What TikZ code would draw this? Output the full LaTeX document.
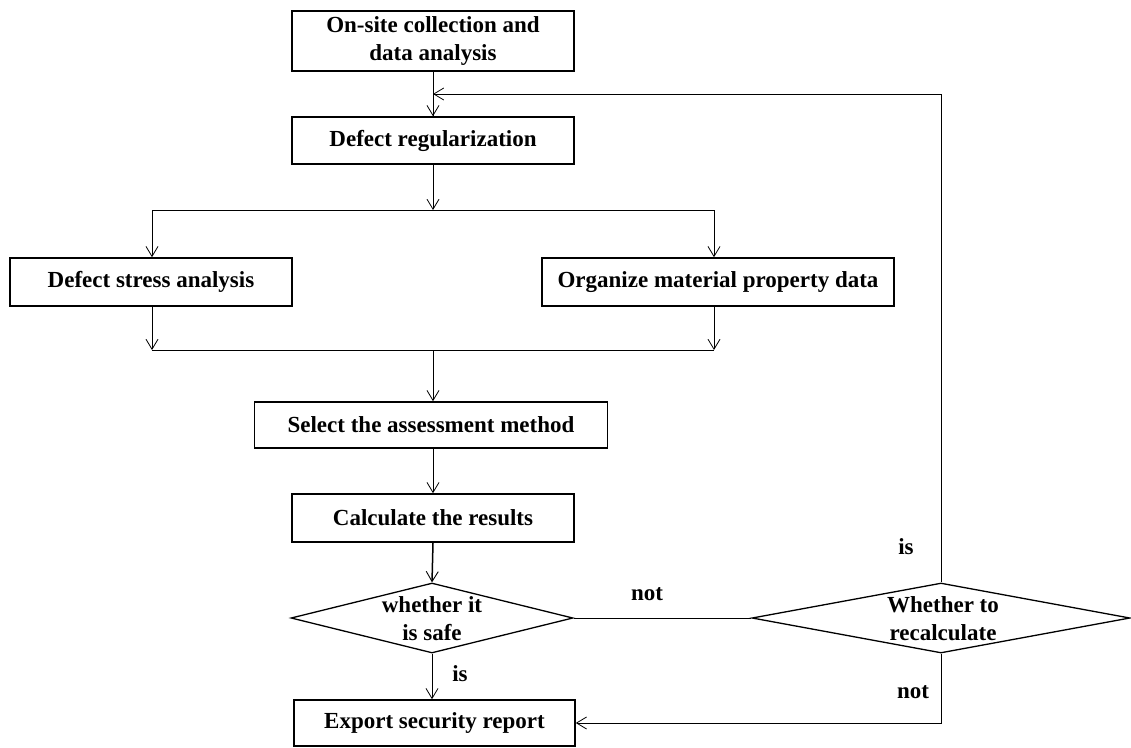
\documentclass[tikz,border=0pt]{standalone}
\usepackage{fontspec}
\setmainfont{Liberation Serif}
\usetikzlibrary{arrows.meta,shapes.geometric}
\begin{document}
\begin{tikzpicture}[x=1pt,y=-1pt,
  every node/.style={font=\fontsize{23}{28}\selectfont\bfseries},
  stepbox/.style={draw, line width=1.6pt, rectangle, inner sep=0pt, align=center},
  decision/.style={draw, line width=1.3pt, diamond, inner sep=0pt},
  lbl/.style={inner sep=0pt},
  conn/.style={line width=0.8pt},
  arr/.style={conn, -{Straight Barb[length=10pt,width=12pt,line width=0.8pt]}}]
\useasboundingbox (0,0) rectangle (1131,747);
\node[stepbox, minimum width=282pt, minimum height=60pt] (b1) at (433,41) {On-site collection and\\data analysis};
\node[stepbox, minimum width=282pt, minimum height=47pt] (b2) at (433,140.5) {Defect regularization};
\node[stepbox, minimum width=282pt, minimum height=48pt] (b3) at (151,282) {Defect stress analysis};
\node[stepbox, minimum width=352pt, minimum height=48pt] (b4) at (718,282) {Organize material property data};
\node[stepbox, minimum width=353pt, minimum height=46pt] (b5) at (431,425) {Select the assessment method};
\node[stepbox, minimum width=282pt, minimum height=48pt] (b6) at (433,518) {Calculate the results};
\node[decision, minimum width=282pt, minimum height=70pt] (d1) at (432,618) {};
\node[align=center, inner sep=0pt] (d1t) at (432,619) {whether it\\is safe};
\node[decision, minimum width=378pt, minimum height=70pt] (d2) at (941,618) {};
\node[align=center, inner sep=0pt] (d2t) at (943,619) {Whether to\\recalculate};
\node[stepbox, minimum width=281pt, minimum height=46pt] (b7) at (434.5,723) {Export security report};

\coordinate (j1) at (433,210);
\coordinate (jl) at (152,210);
\coordinate (jr) at (714,210);
\coordinate (ml) at (152,350);
\coordinate (mr) at (714,350);
\coordinate (mc) at (433,350);
\coordinate (fb) at (433,94);
\coordinate (fc) at (941,94);
\coordinate (bc) at (941,723);

\draw[conn] (b1.south) -- (b2.north);
\draw[arr] (b1.south) -- (b2.north);
\draw[arr] (b2.south) -- (j1);
\draw[conn] (jl) -- (jr);
\draw[arr] (jl) -- (jl |- b3.north);
\draw[arr] (jr) -- (jr |- b4.north);
\draw[arr] (b3.south -| ml) -- (ml);
\draw[arr] (b4.south -| mr) -- (mr);
\draw[conn] (ml) -- (mr);
\draw[arr] (mc) -- (mc |- b5.north);
\draw[arr] (b5.south -| mc) -- (mc |- b6.north);
\draw[line width=1.5pt, -{Straight Barb[length=10pt,width=12pt,line width=0.9pt]}] (b6.south) -- (d1.north);
\draw[conn] (d1.east) -- (d2.west);
\draw[arr] (d1.south) -- (b7.north -| d1.south);
\draw[arr] (d2.north) -- (fc) -- (fb);
\draw[arr] (d2.south) -- (bc) -- (b7.east);

\node[lbl] (lnot1) at (647,594) {not};
\node[lbl] (lis1) at (906,547) {is};
\node[lbl] (lnot2) at (913,692) {not};
\node[lbl] (lis2) at (460,674) {is};
\end{tikzpicture}
\end{document}
